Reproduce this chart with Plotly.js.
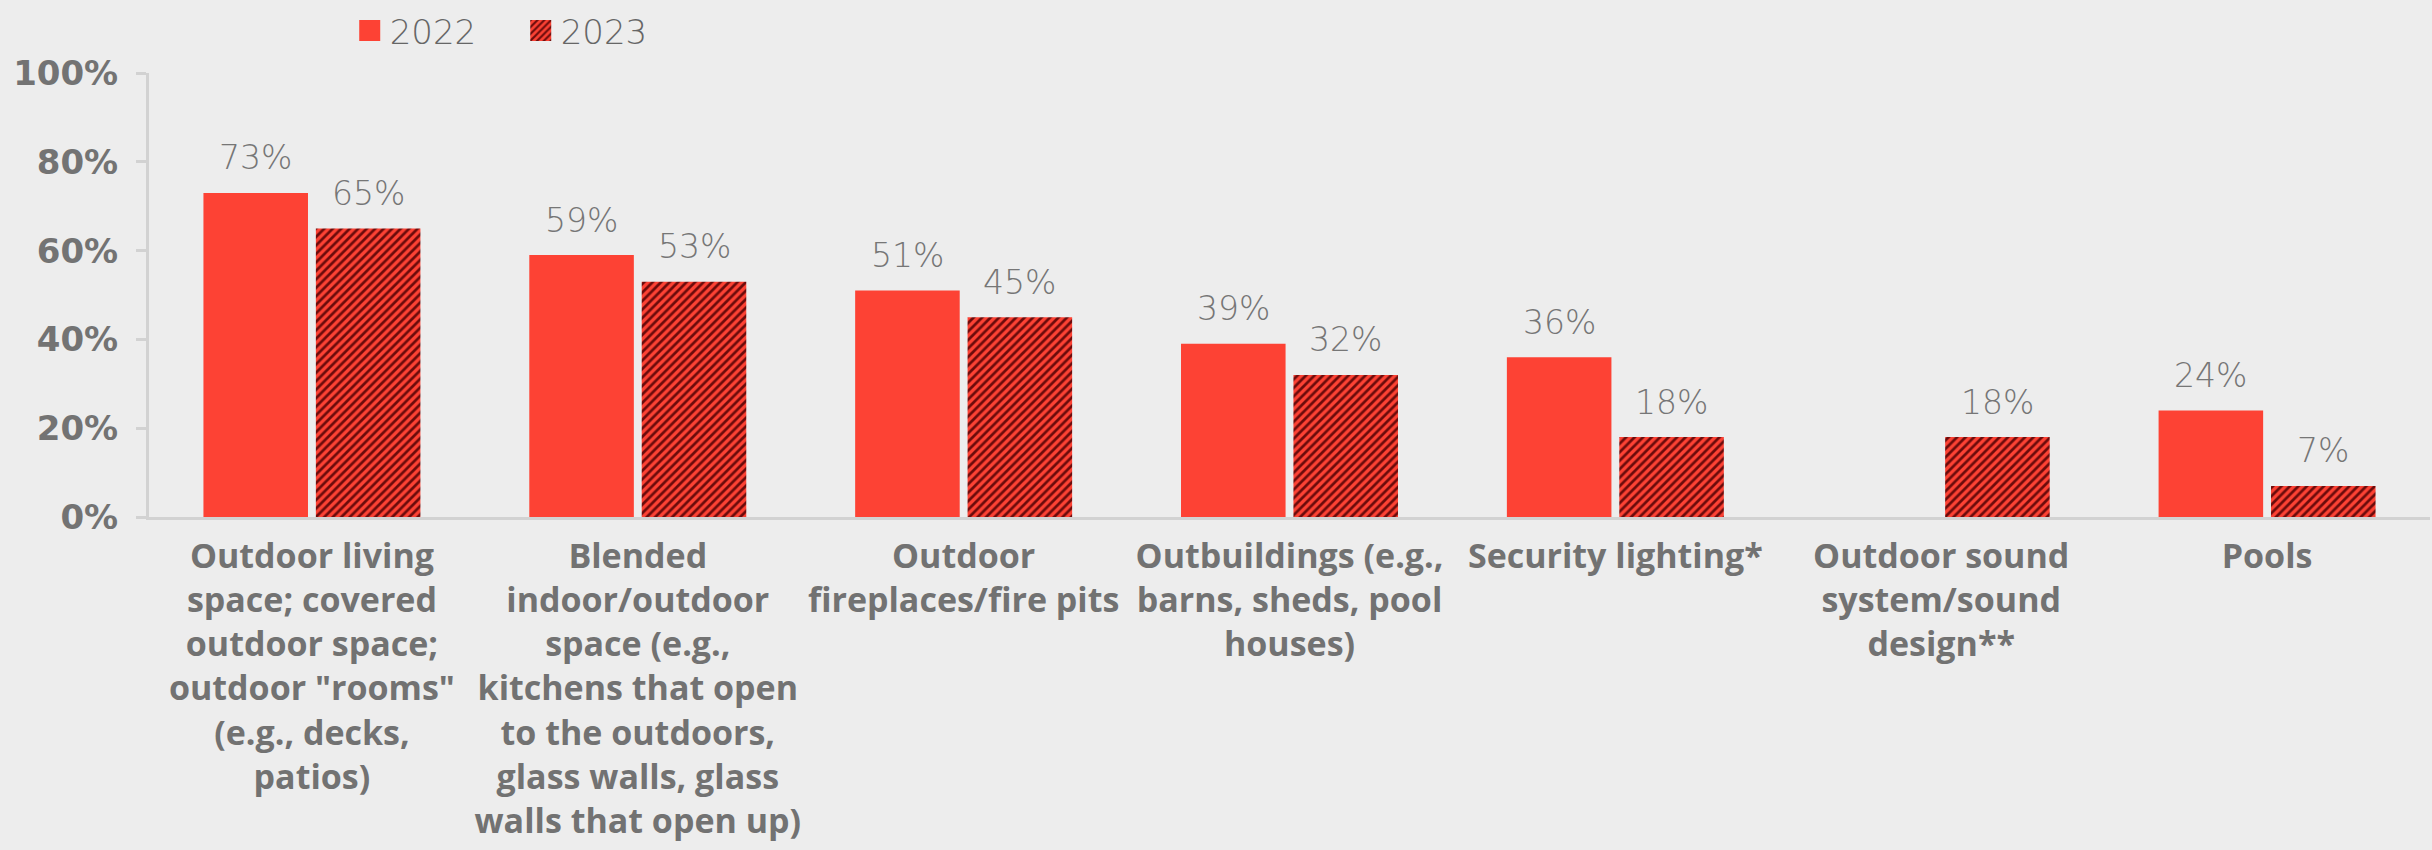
<!DOCTYPE html>
<html>
<head>
<meta charset="utf-8">
<script src="https://cdn.plot.ly/plotly-3.0.1.min.js"></script>
<style>
  html, body { margin: 0; padding: 0; background: #ededed; }
  #chart { width: 2432px; height: 850px; }
</style>
</head>
<body>
<div id="chart"></div>
<script>
const categories = [
  'Outdoor living<br>space; covered<br>outdoor space;<br>outdoor "rooms"<br>(e.g., decks,<br>patios)',
  'Blended<br>indoor/outdoor<br>space (e.g.,<br>kitchens that open<br>to the outdoors,<br>glass walls, glass<br>walls that open up)',
  'Outdoor<br>fireplaces/fire pits',
  'Outbuildings (e.g.,<br>barns, sheds, pool<br>houses)',
  'Security lighting*',
  'Outdoor sound<br>system/sound<br>design**',
  'Pools'
];
const values2022 = [0.73, 0.59, 0.51, 0.39, 0.36, null, 0.24];
const values2023 = [0.65, 0.53, 0.45, 0.32, 0.18, 0.18, 0.07];
const seriesNames = ['2022', '2023'];
const yTickVals = [0, 0.2, 0.4, 0.6, 0.8, 1.0];
const yTickText = ['0%', '20%', '40%', '60%', '80%', '100%'];

// Choose a narrow bold face: Open Sans condensed width if the variable font supports it
function measure(font, stretch) {
  const c = document.createElement('canvas').getContext('2d');
  c.font = font;
  try { c.fontStretch = stretch; } catch (e) {}
  return c.measureText('walls that open up) kitchens').width;
}
const osNormal = measure('bold 40px "Open Sans"', 'normal');
const osCond = measure('bold 40px "Open Sans"', 'condensed');
let catFont;
if (osCond < osNormal * 0.92) {
  catFont = { family: 'Open Sans', size: 34, color: '#727272', weight: 'bold', stretch: 'condensed' };
} else {
  catFont = { family: 'Roboto', size: 31, color: '#727272', weight: 'bold' };
}

const RED = '#fd4234';
const DARK = '#6b0b0b';
const GRAY_LABEL = '#767676';
const AXIS = '#d2d2d2';
const BARGAP = 0.31;
const CAT_PX = (2430 - 149) / categories.length;
const OFFSET_PX = CAT_PX * (1 - BARGAP) / 4;

const traces = [
  {
    type: 'bar', name: seriesNames[0], x: categories, y: values2022,
    marker: { color: RED },
    hoverinfo: 'skip'
  },
  {
    type: 'bar', name: seriesNames[1], x: categories, y: values2023,
    marker: { color: RED, pattern: { shape: '/', bgcolor: RED, fgcolor: DARK, size: 6, solidity: 0.45 } },
    hoverinfo: 'skip'
  }
];

const labelFont = { family: 'DejaVu Sans', size: 33, color: GRAY_LABEL, weight: 300 };
const annotations = [];
[values2022, values2023].forEach((vals, si) => {
  vals.forEach((v, i) => {
    if (v === null || v === undefined) return;
    annotations.push({
      x: categories[i], y: v, xref: 'x', yref: 'y',
      text: Math.round(v * 100) + '%',
      showarrow: false, xanchor: 'center', yanchor: 'middle',
      xshift: si === 0 ? -OFFSET_PX : OFFSET_PX, yshift: 35,
      font: labelFont
    });
  });
});

const layout = {
  width: 2432, height: 850,
  paper_bgcolor: '#ededed', plot_bgcolor: '#ededed',
  margin: { l: 149, r: 2, t: 66, b: 333, pad: 0 },
  barmode: 'group', bargap: BARGAP, bargroupgap: 0.07,
  showlegend: true,
  legend: {
    orientation: 'h', x: 0.088, xanchor: 'left', y: 1.095, yanchor: 'middle',
    font: { family: 'DejaVu Sans', size: 34, color: '#666666', weight: 300 },
    bgcolor: 'rgba(0,0,0,0)', itemwidth: 30, traceorder: 'normal',
    entrywidth: 126, entrywidthmode: 'pixels'
  },
  xaxis: {
    type: 'category', showgrid: false, zeroline: false,
    showline: true, linecolor: AXIS, linewidth: 3,
    ticks: '', ticklabelstandoff: 7,
    tickfont: catFont,
    tickangle: 0, fixedrange: true
  },
  yaxis: {
    range: [0, 1], tickvals: yTickVals, ticktext: yTickText,
    showgrid: false, zeroline: false,
    showline: true, linecolor: AXIS, linewidth: 3,
    ticks: 'outside', ticklen: 10, tickwidth: 3, tickcolor: AXIS,
    ticklabelstandoff: 11,
    tickfont: { family: 'DejaVu Sans', size: 34, color: '#737373', weight: 'bold' },
    fixedrange: true
  },
  annotations: annotations
};

Plotly.newPlot('chart', traces, layout, { displayModeBar: false, staticPlot: true }).then(gd => {
  // enlarge legend swatches to match the reference's larger squares
  gd.querySelectorAll('.legend .legendpoints path').forEach(p => {
    const d = p.getAttribute('d') || '';
    if (/^M6,6H-6V-6H6Z$/.test(d)) {
      p.setAttribute('d', 'M10.5,10.5H-10.5V-10.5H10.5Z');
    }
  });
});
</script>
</body>
</html>
